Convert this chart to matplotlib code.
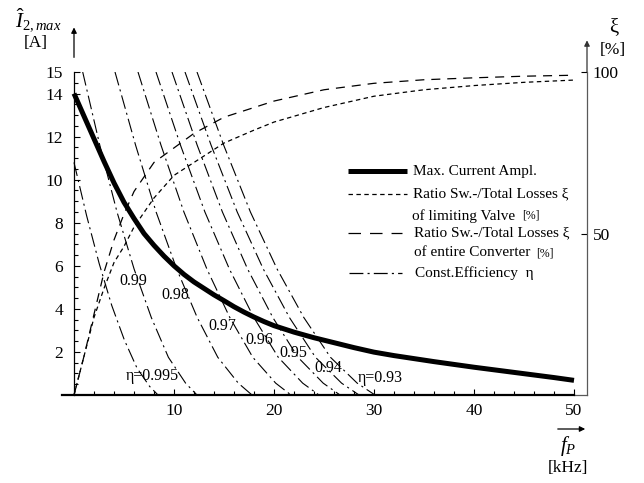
import matplotlib
matplotlib.use('Agg')
import matplotlib.pyplot as plt
from matplotlib.lines import Line2D

plt.rcParams['lines.scale_dashes'] = False
plt.rcParams['font.family'] = ['Liberation Serif', 'DejaVu Serif']
plt.rcParams['mathtext.fontset'] = 'custom'
plt.rcParams['mathtext.rm'] = 'Liberation Serif'
plt.rcParams['mathtext.it'] = 'Liberation Serif:italic'

# ---------------- data ----------------
# max. current amplitude [A] vs switching frequency [kHz]
f_cur = [0, 1, 2, 3, 4, 5, 6, 7, 8, 9, 10, 11, 12, 13, 14, 15, 16, 17, 18, 19, 20,
         22, 24, 26, 28, 30, 32, 34, 36, 38, 40, 42, 44, 46, 48, 50]
i_cur = [14.0, 12.95, 11.9, 10.85, 9.85, 8.95, 8.2, 7.5, 6.95, 6.45, 6.0, 5.6, 5.25, 4.95,
         4.65, 4.38, 4.1, 3.85, 3.62, 3.41, 3.22, 2.92, 2.66, 2.43, 2.2, 1.99, 1.83, 1.69,
         1.55, 1.42, 1.29, 1.17, 1.05, 0.93, 0.81, 0.68]

# ratio switching/total losses xi [%]
f_xi = [0, 1, 2, 3, 4, 5, 6, 8, 10, 12, 15, 18, 20, 25, 30, 35, 40, 45, 50]
xi_valve = [0, 12, 24, 33, 41, 46, 52, 61, 68, 72, 78, 82, 84.5, 89, 92.5, 94.5, 95.8, 96.8, 97.5]
xi_conv = [0, 12, 25, 38, 48, 56, 63, 72, 76.5, 81, 86, 89, 91, 94.5, 96.5, 97.6, 98.2, 98.7, 99.0]

# constant efficiency lines (f [kHz], I [A])
eta_labels = ['η=0.995', '0.99', '0.98', '0.97', '0.96', '0.95', '0.94', 'η=0.93']
eta_f = [
    [0, 1.26, 2.52, 3.78, 5.04, 6.3, 7.56, 8.4],
    [0.87, 2.58, 4.30, 6.01, 7.73, 9.44, 11.16, 12.3],
    [4.1, 6.16, 8.21, 10.27, 12.32, 14.38, 16.43, 17.8],
    [6.4, 8.70, 10.99, 13.29, 15.58, 17.88, 20.17, 21.7],
    [8.2, 10.65, 13.09, 15.54, 17.98, 20.43, 22.87, 24.5],
    [9.8, 12.32, 14.84, 17.36, 19.88, 22.4, 24.92, 26.6],
    [11.1, 13.71, 16.32, 18.93, 21.54, 24.15, 26.76, 28.5],
    [12.3, 14.97, 17.64, 20.31, 22.98, 25.65, 28.32, 30.1],
]
eta_i = [
    [10.8, 8.33, 6.1, 4.15, 2.55, 1.25, 0.4, 0],
    [15, 11.6, 8.5, 5.85, 3.6, 1.75, 0.55, 0],
    [15, 11.6, 8.5, 5.85, 3.6, 1.75, 0.55, 0],
    [15, 11.6, 8.5, 5.85, 3.6, 1.75, 0.55, 0],
    [15, 11.6, 8.5, 5.85, 3.6, 1.75, 0.55, 0],
    [15, 11.6, 8.5, 5.85, 3.6, 1.75, 0.55, 0],
    [15, 11.6, 8.5, 5.85, 3.6, 1.75, 0.55, 0],
    [15, 11.6, 8.5, 5.85, 3.6, 1.75, 0.55, 0],
]
# label positions (f, I)
eta_lab_f = [7.8, 5.9, 10.1, 14.8, 18.5, 21.9, 25.4, 30.6]
eta_lab_i = [0.88, 5.3, 4.65, 3.2, 2.56, 1.95, 1.26, 0.79]

x_major = [10, 20, 30, 40, 50]
y_major = [2, 4, 6, 8, 10, 12, 14, 15]
xi_ticks = [50, 100]

# ---------------- figure ----------------
W, H = 644, 483
fig = plt.figure(figsize=(W / 100, H / 100), dpi=100)
X0, X1 = -1.2, 51.3
ax = fig.add_axes([62 / W, (H - 395) / H, 525 / W, 323 / H])
ax.set_xlim(X0, X1)
ax.set_ylim(0, 15)
ax.patch.set_visible(False)

for s in ['top', 'right']:
    ax.spines[s].set_visible(False)
ax.spines['left'].set_position(('data', 0))
ax.spines['left'].set_bounds(0, 15)
ax.spines['left'].set_linewidth(0.9)
ax.spines['bottom'].set_bounds(X0, 50)
ax.spines['bottom'].set_linewidth(1.6)

ax.set_xticks(x_major)
ax.set_xticks([v for v in range(2, 51, 2) if v % 10], minor=True)
ax.set_yticks(y_major)
ax.set_yticks([v / 2 for v in range(1, 30) if v % 4], minor=True)
ax.tick_params(axis='both', which='both', direction='in', width=0.8, labelsize=12.5)
ax.tick_params(axis='both', which='major', length=4)
ax.tick_params(axis='both', which='minor', length=3)
ax.tick_params(axis='x', pad=6)
ax.tick_params(axis='y', pad=8)

ec = (0, (10, 3, 1.5, 3))
for fx, iy in zip(eta_f, eta_i):
    ax.plot(fx, iy, color='black', lw=0.8, linestyle=ec)
for lab, lf, li in zip(eta_labels, eta_lab_f, eta_lab_i):
    ax.text(lf, li, lab, fontsize=11.5, ha='center', va='center')

ax.plot(f_cur, i_cur, color='black', lw=3.6, solid_capstyle='butt', solid_joinstyle='round', zorder=5)

ax2 = ax.twinx()
ax2.set_ylim(0, 100)
for s in ['top', 'left', 'bottom']:
    ax2.spines[s].set_visible(False)
ax2.spines['right'].set_color('0.35')
ax2.spines['right'].set_linewidth(0.9)
ax2.set_yticks(xi_ticks)
ax2.tick_params(axis='y', direction='in', length=4, width=0.8, labelsize=12.5, pad=4)
ax2.plot(f_xi, xi_valve, color='black', lw=0.9, linestyle=(0, (3.2, 2.5)))
ax2.plot(f_xi, xi_conv, color='black', lw=0.9, linestyle=(0, (6.5, 5)))

# frame pieces and arrows
ax.plot([50, X1], [0, 0], color='0.35', lw=0.9, clip_on=False)
ax.annotate('', xy=(0, 17.2), xytext=(0, 15.55),
            arrowprops=dict(arrowstyle='-|>', color='black', lw=0.9, mutation_scale=8),
            annotation_clip=False)
ax.annotate('', xy=(X1, 16.6), xytext=(X1, 15),
            arrowprops=dict(arrowstyle='-|>', color='0.2', lw=0.9, mutation_scale=8, shrinkA=0),
            annotation_clip=False)


def T(px, py, s, **kw):
    kw.setdefault('ha', 'center')
    kw.setdefault('va', 'center')
    fig.text(px / W, 1 - py / H, s, **kw)


def L(x1, x2, y, **kw):
    fig.add_artist(Line2D([x1 / W, x2 / W], [1 - y / H, 1 - y / H], transform=fig.transFigure, **kw))


# axis labels
T(38, 20, r'$\hat{I}_{\mathit{2,max}}$', fontsize=15)
T(36, 43, '[A]', fontsize=12.5)
T(614, 28, 'ξ', fontsize=15)
T(613, 50, '[%]', fontsize=12.5)
fig.add_artist(matplotlib.patches.FancyArrowPatch((555 / W, 1 - 429 / H), (588 / W, 1 - 429 / H),
                                                  transform=fig.transFigure, arrowstyle='-|>',
                                                  mutation_scale=8, lw=0.9, color='black'))
T(568, 446, r'$f_P$', fontsize=15)
T(568, 468, '[kHz]', fontsize=12.5)

# legend
L(348, 407, 171, color='black', lw=3.6, solid_capstyle='butt')
T(413, 171, 'Max. Current Ampl.', fontsize=11, ha='left')
L(348, 407, 194, color='black', lw=0.9, linestyle=(0, (3.2, 2.5)))
T(413, 194, 'Ratio Sw.-/Total Losses ξ', fontsize=11, ha='left')
T(412, 216, 'of limiting Valve', fontsize=11, ha='left')
T(522, 216, '[%]', fontsize=8.5, ha='left')
L(348, 402, 233, color='black', lw=0.9, linestyle=(0, (9, 6.5)))
T(414, 233, 'Ratio Sw.-/Total Losses ξ', fontsize=11, ha='left')
T(414, 253, 'of entire Converter', fontsize=11, ha='left')
T(536, 253, '[%]', fontsize=8.5, ha='left')
L(349, 402, 273, color='black', lw=0.9, linestyle=(0, (10, 3, 1.5, 3)))
T(415, 273, 'Const.Efficiency  η', fontsize=11, ha='left')

fig.savefig('out.png', dpi=100)
